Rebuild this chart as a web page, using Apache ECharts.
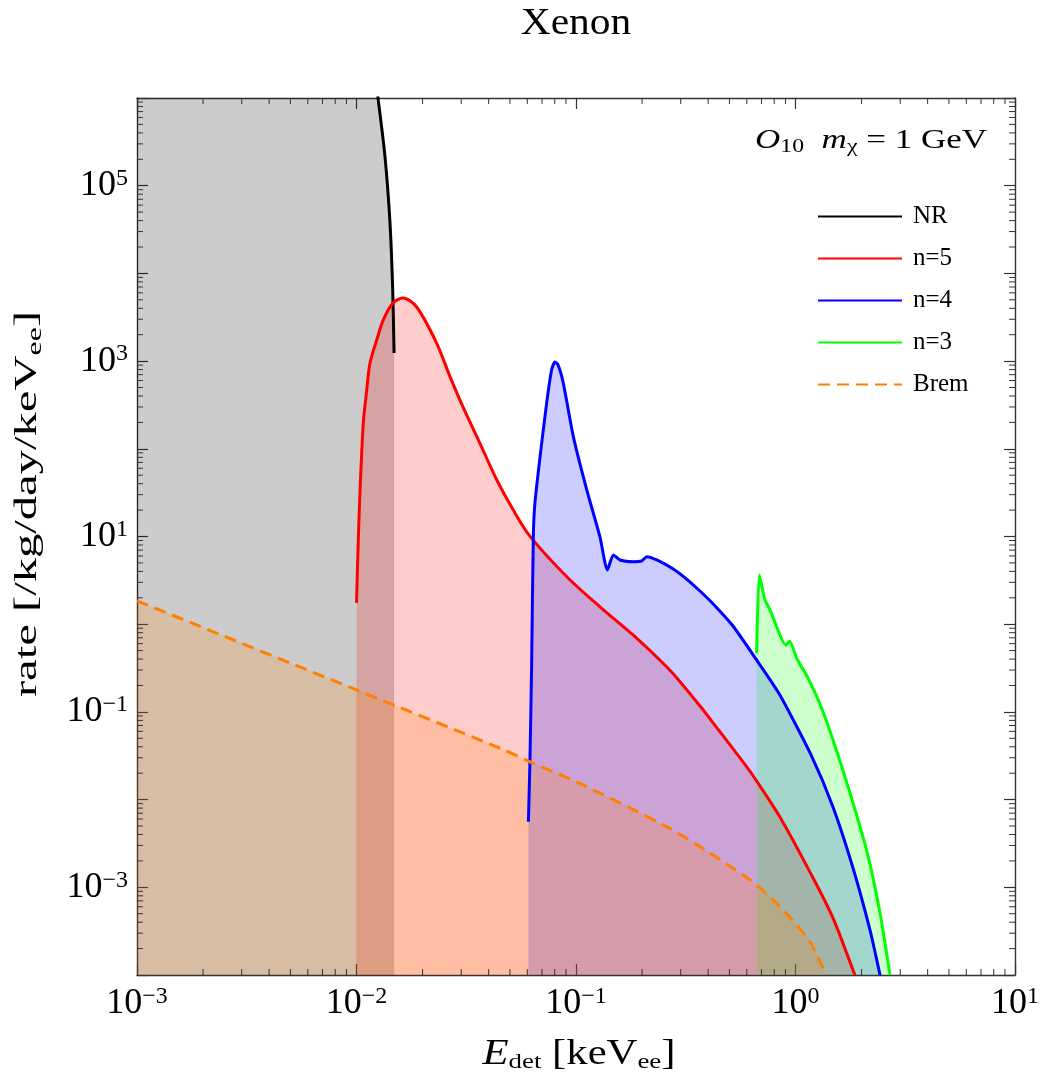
<!DOCTYPE html>
<html>
<head>
<meta charset="utf-8">
<script src="https://cdn.jsdelivr.net/npm/echarts@6/dist/echarts.min.js"></script>
<style>
  html, body { margin: 0; padding: 0; background: #fff; }
  #main { width: 1042px; height: 1086px; }
</style>
</head>
<body>
<div id="main"></div>
<script>
// energies [keVee] and rates [/kg/day/keVee]
var nrE = [0.001, 0.01, 0.01253, 0.01349, 0.01421, 0.01462, 0.01483];
var nrRate = [1e20, 1e8, 1e6, 2.12e5, 3.76e4, 6.5e3, 1.24e3];

var n5E = [0.01, 0.01019, 0.01038, 0.01074, 0.01113, 0.01152, 0.01236, 0.01325, 0.01465, 0.01628,
  0.01879, 0.02317, 0.02667, 0.03055, 0.0365, 0.04357, 0.0518, 0.06164, 0.0908, 0.1285,
  0.182, 0.2588, 0.2977, 0.3673, 0.422, 0.5995, 0.665, 0.849, 1.164, 1.482, 1.828, 1.866];
var n5Rate = [1.75, 9.1, 33.9, 197, 468, 951, 1741, 2944, 4594, 5240,
  4140, 1607, 664, 300, 115.6, 44.1, 20.0, 10.1, 3.48, 1.58,
  0.754, 0.327, 0.221, 0.1167, 0.0746, 0.0236, 0.0163, 0.00634, 0.00149, 4.46e-4, 1.14e-4, 1e-4];

var n4E = [0.0607, 0.0617, 0.0628, 0.0639, 0.065, 0.0686, 0.0735, 0.0774, 0.0801, 0.0829,
  0.0875, 0.0973, 0.112, 0.1285, 0.139, 0.148, 0.1586, 0.182, 0.199, 0.21,
  0.2334, 0.2773, 0.319, 0.367, 0.422, 0.519, 0.665, 0.849, 1.177, 1.482,
  1.828, 2.184, 2.427];
var n4Rate = [0.0056, 0.0283, 0.361, 9.95, 24.1, 81.3, 333, 791, 977, 903,
  562, 137, 33.9, 9.95, 4.15, 6.15, 5.4, 5.16, 5.26, 5.89,
  5.4, 4.26, 3.27, 2.39, 1.7, 0.953, 0.391, 0.156, 0.0323, 0.00824,
  0.00166, 3.26e-4, 1e-4];

var n3E = [0.665, 0.684, 0.726, 0.766, 0.905, 0.939, 1.016, 1.128, 1.293, 1.482, 1.771, 2.117, 2.427, 2.695];
var n3Rate = [0.466, 3.64, 1.89, 1.45, 0.579, 0.643, 0.401, 0.256, 0.123, 0.0479, 0.0119, 0.00253, 5.1e-4, 1e-4];

var bremE = [0.001, 0.01, 0.0451, 0.0617, 0.1024, 0.2588, 0.367, 0.519, 0.665, 0.879, 1.164, 1.377];
var bremRate = [1.85, 0.178, 0.0385, 0.027, 0.0156, 0.00491, 0.0029, 0.00165, 1.06e-3, 5.5e-4, 2.38e-4, 1e-4];

var names = ['NR', 'n=5', 'n=4', 'n=3', 'Brem'];
var colors = ['#000000', '#ff0000', '#0000ff', '#00ff00', '#ff8000'];

// axis ranges and tick multipliers
var xRange = [1e-3, 10];
var yRange = [1e-4, 1e6];
var minorMult = [2, 3, 4, 5, 6, 7, 8, 9];

function pairs(xs, ys) {
  return xs.map(function (x, i) { return [x, ys[i]]; });
}
function minorIn(r) {
  var out = [];
  for (var e = Math.round(Math.log10(r[0])); e < Math.round(Math.log10(r[1])); e++) {
    minorMult.forEach(function (m) { out.push(m * Math.pow(10, e)); });
  }
  return out;
}
var curves = [pairs(nrE, nrRate), pairs(n5E, n5Rate), pairs(n4E, n4Rate), pairs(n3E, n3Rate), pairs(bremE, bremRate)];
var smooth = [0.3, 0.3, 0.2, 0.2, 0.3];

var font = 'Liberation Serif';
var sup = function (v) {
  var e = Math.round(Math.log10(v));
  return '{b|10}{s|' + String(e).replace('-', '\u2212') + '}';
};
var labelRich = {
  b: { fontFamily: font, fontSize: 36, color: '#000', lineHeight: 38, verticalAlign: 'middle' },
  s: { fontFamily: font, fontSize: 24, color: '#000', lineHeight: 12, verticalAlign: 'top' }
};
var frameColor = '#333';

function axis(extra) {
  var a = {
    type: 'log', logBase: 10,
    axisLine: { show: true, lineStyle: { color: frameColor, width: 1.4 } },
    axisTick: { show: true, inside: true, length: 11, lineStyle: { color: frameColor, width: 1.2 } },
    minorTick: { show: false },
    splitLine: { show: false }
  };
  for (var k in extra) a[k] = extra[k];
  return a;
}

var series = [];
// fills first, lines on top
curves.forEach(function (d, i) {
  series.push({
    name: names[i] + ' fill', type: 'line', data: d, symbol: 'none', smooth: smooth[i],
    lineStyle: { width: 0 }, areaStyle: { color: colors[i], opacity: 0.2 }, silent: true
  });
});
curves.forEach(function (d, i) {
  series.push({
    name: names[i], type: 'line', data: d, symbol: 'none', smooth: smooth[i],
    lineStyle: { color: colors[i], width: 3, type: i === 4 ? [12, 7] : 'solid' },
    itemStyle: { color: colors[i] }
  });
});
// log-spaced minor ticks on all four frame edges
series.push({
  type: 'custom', silent: true, z: 10,
  data: minorIn(xRange).map(function (v) { return [v, 1]; }),
  renderItem: function (params, api) {
    var cs = params.coordSys;
    var px = api.coord([api.value(0), 1])[0];
    var st = { stroke: frameColor, lineWidth: 1 };
    return { type: 'group', children: [
      { type: 'line', shape: { x1: px, y1: cs.y + cs.height, x2: px, y2: cs.y + cs.height - 6 }, style: st },
      { type: 'line', shape: { x1: px, y1: cs.y, x2: px, y2: cs.y + 6 }, style: st }
    ] };
  }
});
series.push({
  type: 'custom', silent: true, z: 10,
  data: minorIn(yRange).map(function (v) { return [1, v]; }),
  renderItem: function (params, api) {
    var cs = params.coordSys;
    var py = api.coord([1, api.value(1)])[1];
    var st = { stroke: frameColor, lineWidth: 1 };
    return { type: 'group', children: [
      { type: 'line', shape: { x1: cs.x, y1: py, x2: cs.x + 6, y2: py }, style: st },
      { type: 'line', shape: { x1: cs.x + cs.width, y1: py, x2: cs.x + cs.width - 6, y2: py }, style: st }
    ] };
  }
});

var titleRich = function (size, subSize, subH) {
  return {
    i: { fontFamily: font, fontStyle: 'italic', fontSize: size, lineHeight: 36, verticalAlign: 'middle', fill: '#000' },
    b: { fontFamily: font, fontSize: size, lineHeight: 36, verticalAlign: 'middle', fill: '#000' },
    sub: { fontFamily: font, fontSize: subSize, lineHeight: subH, verticalAlign: 'bottom', fill: '#000' }
  };
};

var chart = echarts.init(document.getElementById('main'));
chart.setOption({
  animation: false,
  backgroundColor: '#fff',
  grid: { left: 137, right: 27, top: 98, bottom: 111 },
  xAxis: [
    axis({ min: xRange[0], max: xRange[1], splitNumber: 4, position: 'bottom',
      axisLabel: { formatter: sup, rich: labelRich, margin: 10 } }),
    axis({ min: xRange[0], max: xRange[1], splitNumber: 4, position: 'top', axisLabel: { show: false } })
  ],
  yAxis: [
    axis({ min: yRange[0], max: yRange[1], splitNumber: 10, position: 'left',
      axisLabel: {
        formatter: function (v) {
          var e = Math.round(Math.log10(v));
          return Math.abs(e) % 2 === 1 ? sup(v) : '';
        }, rich: labelRich, margin: 9
      } }),
    axis({ min: yRange[0], max: yRange[1], splitNumber: 10, position: 'right', axisLabel: { show: false } })
  ],
  legend: {
    data: names, orient: 'vertical', left: 812, top: 199,
    itemWidth: 84, itemHeight: 14, itemGap: 17,
    itemStyle: { opacity: 0 },
    textStyle: { fontFamily: font, fontSize: 25, color: '#000', padding: [0, 0, 0, 6] }
  },
  graphic: [
    {
      type: 'text', x: 576, y: 24, scaleX: 1.12,
      style: { text: 'Xenon', align: 'center', verticalAlign: 'middle', fontFamily: font, fontSize: 37, fill: '#000' }
    },
    {
      type: 'text', x: 579, y: 1055, scaleX: 1.22,
      style: {
        text: '{i|E}{sub|det}{b| [keV}{sub|ee}{b|]}', align: 'center', verticalAlign: 'middle',
        rich: titleRich(35, 22, 24)
      }
    },
    {
      type: 'text', x: 28, y: 504, rotation: Math.PI / 2, scaleX: 1.52,
      style: {
        text: '{b|rate [/kg/day/keV}{sub|ee}{b|]}', align: 'center', verticalAlign: 'middle',
        rich: titleRich(32, 21, 24)
      }
    },
    {
      type: 'text', x: 987, y: 141, scaleX: 1.25,
      style: {
        text: '{i|O}{sub|10}{b|  }{i|m}{sub|\u03c7}{b| = 1 GeV}', align: 'right', verticalAlign: 'middle',
        rich: {
          i: { fontFamily: font, fontStyle: 'italic', fontSize: 28, lineHeight: 32, verticalAlign: 'middle', fill: '#000' },
          b: { fontFamily: font, fontSize: 28, lineHeight: 32, verticalAlign: 'middle', fill: '#000' },
          sub: { fontFamily: font, fontSize: 19, lineHeight: 17, verticalAlign: 'bottom', fill: '#000' }
        }
      }
    }
  ],
  series: series
});
</script>
</body>
</html>
